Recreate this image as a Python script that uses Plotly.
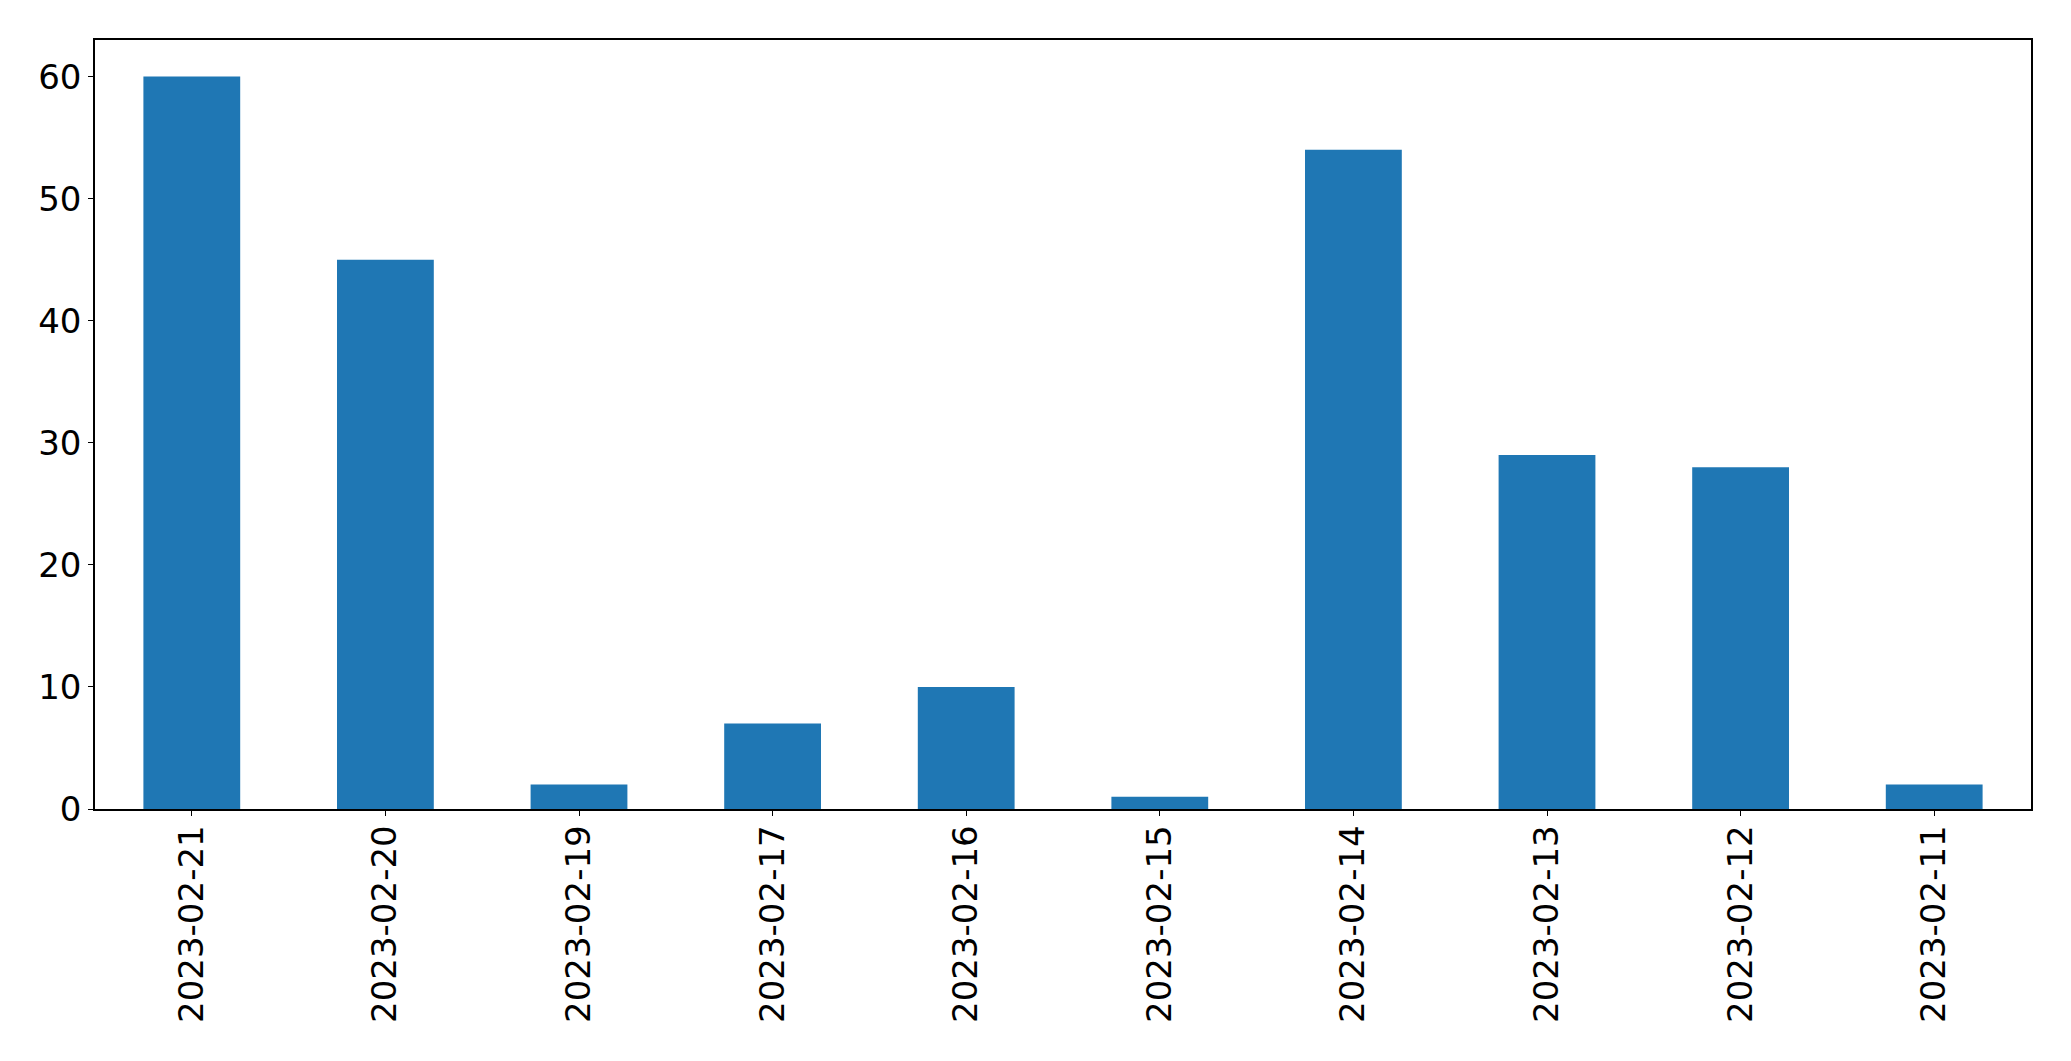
import plotly.graph_objects as go

categories = ["2023-02-21", "2023-02-20", "2023-02-19", "2023-02-17", "2023-02-16",
              "2023-02-15", "2023-02-14", "2023-02-13", "2023-02-12", "2023-02-11"]
values = [60, 45, 2, 7, 10, 1, 54, 29, 28, 2]
y_ticks = [0, 10, 20, 30, 40, 50, 60]

fig = go.Figure(go.Bar(x=categories, y=values, marker_color="#1f77b4",
                       marker_line_width=0, width=0.5))

fig.update_layout(
    width=2071, height=1061,
    margin=dict(l=95, r=40, t=40, b=252, pad=0, autoexpand=False),
    paper_bgcolor="white", plot_bgcolor="white",
    font=dict(family="DejaVu Sans", size=34, color="black"),
    showlegend=False,
)
fig.update_xaxes(type="category", range=[-0.5, 9.5], tickangle=-90,
                 showline=True, linecolor="black", linewidth=1.5, mirror=True,
                 ticks="outside", ticklen=5, tickwidth=1.2, tickcolor="black",
                 ticklabelstandoff=-4,
                 showgrid=False, zeroline=False, automargin=False)
fig.update_yaxes(range=[0, 63], tickvals=y_ticks,
                 showline=True, linecolor="black", linewidth=1.5, mirror=True,
                 ticks="outside", ticklen=5, tickwidth=1.2, tickcolor="black",
                 showgrid=False, zeroline=False, automargin=False)

fig.write_html("out.html", config={"displayModeBar": False},
               post_script="document.body.style.margin='0';document.body.style.overflow='hidden';")
